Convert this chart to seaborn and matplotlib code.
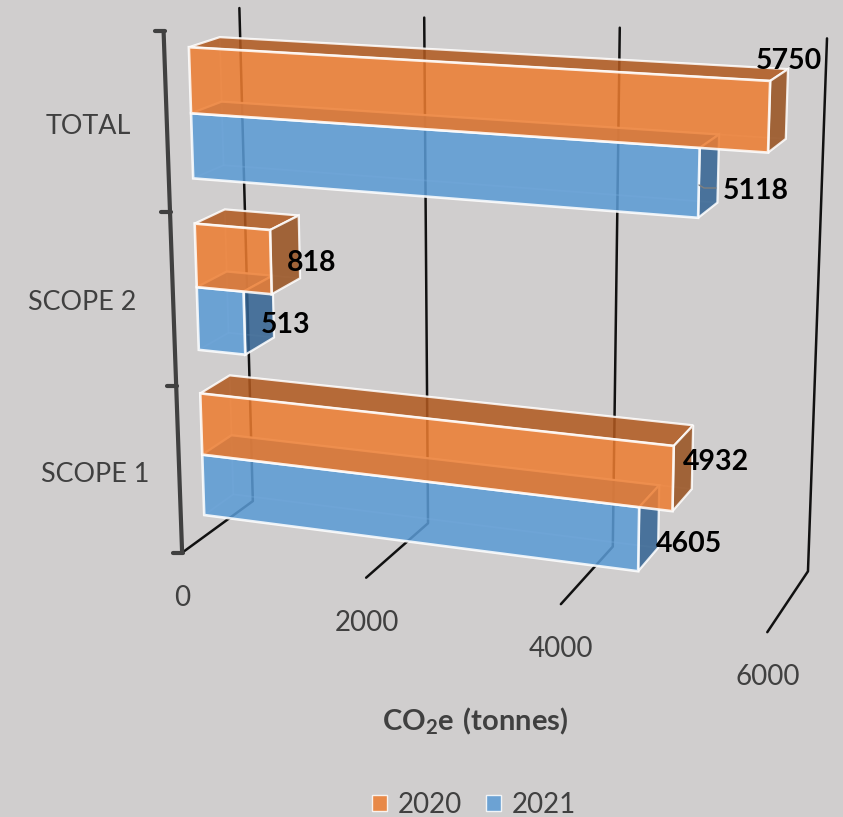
import numpy as np
import pandas as pd
import matplotlib
matplotlib.use("Agg")
import matplotlib.pyplot as plt
import seaborn as sns
from matplotlib.patches import Polygon, Patch
from matplotlib.lines import Line2D
from matplotlib.transforms import Affine2D, Transform

# ---- data ----
categories = ["TOTAL", "SCOPE 2", "SCOPE 1"]
values_2020 = [5750, 818, 4932]
values_2021 = [5118, 513, 4605]
years = ["2020", "2021"]
x_ticks = [0, 2000, 4000, 6000]
x_title = r"$\mathbf{CO_2e\ (tonnes)}$"

# ---- style ----
W, H = 843, 817
BG = "#D0CECE"
COL = {"2020": "#ED7D31", "2021": "#5B9BD5"}
TOP = {"2020": "#B1591F", "2021": "#3F6F9F"}
SIDE = {"2020": "#98511F", "2021": "#336392"}
ALPHA = 0.85
D0, D1 = 0.31, 0.72
BAR_WIDTH = 0.74
TXT = "#404040"

sns.set_theme(style="white")
plt.rcParams["font.family"] = ["Lato", "DejaVu Sans"]
plt.rcParams["mathtext.fontset"] = "custom"
plt.rcParams["mathtext.bf"] = "Lato:bold"
plt.rcParams["mathtext.rm"] = "Lato"

# ---- perspective camera: fitted from the frame of the plot (value, category, depth) -> pixel ----
calib = [
    (0, -0.5, 0, 164, 31), (0, 2.5, 0, 182, 553),
    (2000, 2.5, 0, 366, 578), (4000, 2.5, 0, 561, 604), (6000, 2.5, 0, 767, 632),
    (0, 2.5, 1, 253, 501), (2000, 2.5, 1, 428, 523), (4000, 2.5, 1, 613, 546), (6000, 2.5, 1, 808, 572),
    (0, -0.5, 1, 239, 8), (2000, -0.5, 1, 424, 18), (4000, -0.5, 1, 620, 28), (6000, -0.5, 1, 827, 38),
]


def fit_camera(points):
    rows = []
    for v, c, d, px, py in points:
        X = [v / 6000, (c + 0.5) / 3, d, 1]
        u, w = px / 800, py / 800
        rows.append(X + [0, 0, 0, 0] + [-u * k for k in X])
        rows.append([0, 0, 0, 0] + X + [-w * k for k in X])
    return np.linalg.svd(np.array(rows))[2][-1].reshape(3, 4)


CAM = fit_camera(calib)


def project(v, c, d):
    v, c, d = np.broadcast_arrays(np.asarray(v, float), np.asarray(c, float), np.asarray(d, float))
    X = np.stack([v / 6000, (c + 0.5) / 3, d, np.ones_like(v, dtype=float)], axis=-1)
    h = X @ CAM.T
    return h[..., :2] / h[..., 2:] * 800


PIX = Affine2D().scale(1, -1).translate(0, H)


class Perspective(Transform):
    input_dims = output_dims = 2
    is_separable = False
    has_inverse = False

    def __init__(self, bar_depth):
        super().__init__()
        self.bar_depth = bar_depth

    def transform_non_affine(self, values):
        values = np.asarray(values, dtype=float)
        return PIX.transform(project(values[:, 0], values[:, 1], self.bar_depth))


# ---- figure ----
df = pd.DataFrame({
    "scope": categories * 2,
    "year": [years[0]] * 3 + [years[1]] * 3,
    "value": values_2020 + values_2021,
})
fig = plt.figure(figsize=(W / 100, H / 100), dpi=100, facecolor=BG)
ax = fig.add_axes([0, 0, 1, 1], facecolor=BG)
sns.barplot(data=df, x="value", y="scope", hue="year", order=categories, hue_order=years,
            palette=COL, saturation=1, width=BAR_WIDTH, alpha=ALPHA, legend=False, ax=ax)
ax.set_xlim(0, 6000)
ax.set_ylim(2.5, -0.5)
ax.set_axis_off()

front = Perspective(D0)


def face(pts, color, alpha, z, edge=(1, 1, 1, 0.85), elw=1.6):
    xy = project(*np.array(pts, dtype=float).T)
    ax.add_patch(Polygon(xy, closed=True, transform=PIX, facecolor=matplotlib.colors.to_rgba(color, alpha),
                         edgecolor=edge, linewidth=elw, zorder=z, clip_on=False))


bars = list(ax.patches)
for i, p in enumerate(bars):
    year = years[i // 3]
    base = 10 if year == "2021" else 20
    v, y0, y1 = p.get_width(), p.get_y(), p.get_y() + p.get_height()
    soft = (1, 1, 1, 0.2)
    # hidden faces
    face([(0, y0, D1), (v, y0, D1), (v, y1, D1), (0, y1, D1)], COL[year], 0.05, base, soft, 1.2)
    face([(0, y1, D0), (v, y1, D0), (v, y1, D1), (0, y1, D1)], COL[year], 0.05, base, soft, 1.2)
    face([(0, y0, D0), (0, y0, D1), (0, y1, D1), (0, y1, D0)], COL[year], 0.05, base, soft, 1.2)
    # visible faces
    face([(0, y0, D0), (v, y0, D0), (v, y0, D1), (0, y0, D1)], TOP[year], ALPHA, base + 1)
    face([(v, y0, D0), (v, y0, D1), (v, y1, D1), (v, y1, D0)], SIDE[year], ALPHA, base + 2)
    p.set_transform(front)
    p.set_edgecolor("white")
    p.set_linewidth(1.9)
    p.set_zorder(base + 3)
    p.set_clip_on(False)

# walls, floor lines and the category axis
for t in x_ticks:
    xy = project([t, t, t], [2.5, 2.5, -0.5], [0, 1, 1])
    ax.add_line(Line2D(xy[:, 0], xy[:, 1], transform=PIX, color="#111111", lw=1.8, zorder=1, clip_on=False))
    lx, ly = project(t, 2.5, 0)
    ax.text(lx + 0.5, ly + 45, str(t), transform=PIX, ha="center", va="center", color=TXT, fontsize=20)

edges = [-0.5, 0.5, 1.5, 2.5]
axy = project([0, 0], [edges[0], edges[-1]], [0, 0])
ax.add_line(Line2D(axy[:, 0], axy[:, 1], transform=PIX, color="#404040", lw=3, zorder=1, clip_on=False))
for e in edges:
    tx, ty = project(0, e, 0)
    ax.add_line(Line2D([tx - 9, tx + 1], [ty, ty], transform=PIX, color="#404040", lw=3, zorder=1, clip_on=False))

cat_xy = [(88.5, 126), (82, 303), (95.5, 474)]
for name, (cx, cy) in zip(categories, cat_xy):
    ax.text(cx, cy, name, transform=PIX, ha="center", va="center", color=TXT, fontsize=19.4)

# value labels
label_xy = [(789, 61), (312, 263), (716, 462), (756, 191), (286, 325), (689, 544)]
for val, (lx, ly) in zip(values_2020 + values_2021, label_xy):
    ax.text(lx, ly, str(val), transform=PIX, ha="center", va="center", color="black",
            fontsize=20.5, fontweight="bold", zorder=40)

# thin leader of the 5118 label
ax.add_line(Line2D([699, 704, 716], [185, 188, 188], transform=PIX, color="#7F7F7F", lw=1, zorder=30, clip_on=False))

# axis title and legend
ax.text(475, 721, x_title, transform=PIX, ha="center", va="center", color=TXT, fontsize=21)
handles = [Patch(facecolor=COL[y], alpha=ALPHA, edgecolor="white", linewidth=1, label=y) for y in years]
fig.legend(handles=handles, loc="center", bbox_to_anchor=(474 / W, 1 - 805 / H), ncol=2, frameon=False,
           fontsize=20, handlelength=0.54, handleheight=0.54, handletextpad=0.4, columnspacing=0.85,
           labelcolor=TXT, borderpad=0)

fig.savefig("out.png", dpi=100, facecolor=BG)
